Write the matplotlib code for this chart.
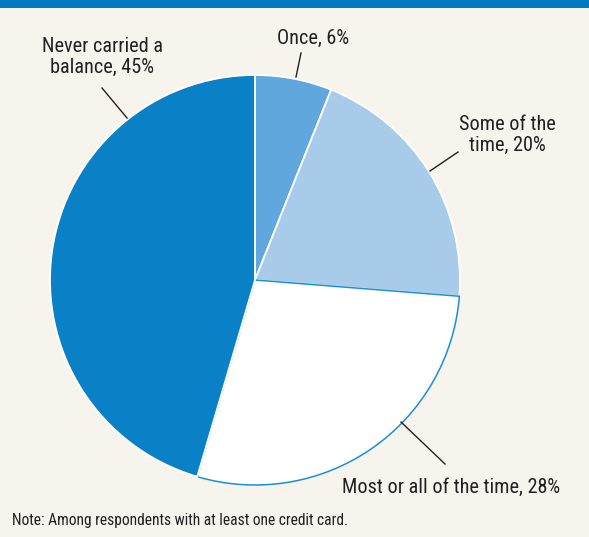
import matplotlib.pyplot as plt
from matplotlib.patches import Rectangle

labels = ["Once, 6%", "Some of the\ntime, 20%", "Most or all of the time, 28%",
          "Never carried a\nbalance, 45%"]
shares = [6, 20, 28, 45]
colors = ["#5fa7dc", "#a9cbea", "#ffffff", "#0a80c6"]
note = "Note: Among respondents with at least one credit card."

W, H = 589, 537
BG = "#f7f4ee"
BLUE = "#0079c1"
INK = "#231f20"
plt.rcParams["font.family"] = ["Roboto Condensed", "Archivo Narrow", "DejaVu Sans"]

fig = plt.figure(figsize=(W / 100, H / 100), dpi=100, facecolor=BG)
ax = fig.add_axes([0, 0, 1, 1])

# top rule
ax.add_patch(Rectangle((0, H - 8), W, 8, color=BLUE, lw=0))

cx, cy, r = 255, H - 280, 205
wedges, _ = ax.pie(shares, colors=colors, startangle=90, counterclock=False,
                   center=(cx, cy), radius=r, frame=True,
                   wedgeprops=dict(edgecolor="white", linewidth=1.3))
wedges[2].set_edgecolor("#1a8fd6")
wedges[2].set_linewidth(1.1)
ax.set_xlim(0, W)
ax.set_ylim(0, H)
ax.set_aspect("equal")
ax.axis("off")

# label text position, leader start (on text side), leader end (on pie)
placements = [
    ((313, 38), (301, 53), (296, 77)),
    ((507, 135), (458, 152), (430, 171)),
    ((451, 487), (445, 464), (401, 422)),
    ((102, 57), (102, 88), (127, 118)),
]
for lab, (tpos, p0, p1) in zip(labels, placements):
    ax.text(tpos[0], H - tpos[1], lab, ha="center", va="center",
            fontsize=14.6, color=INK, linespacing=1.13)
    ax.plot([p0[0], p1[0]], [H - p0[1], H - p1[1]], color=INK, lw=1)

ax.text(12, H - 521, note, ha="left", va="center", fontsize=11.2, color=INK)

fig.savefig("out.png", dpi=100, facecolor=BG)
